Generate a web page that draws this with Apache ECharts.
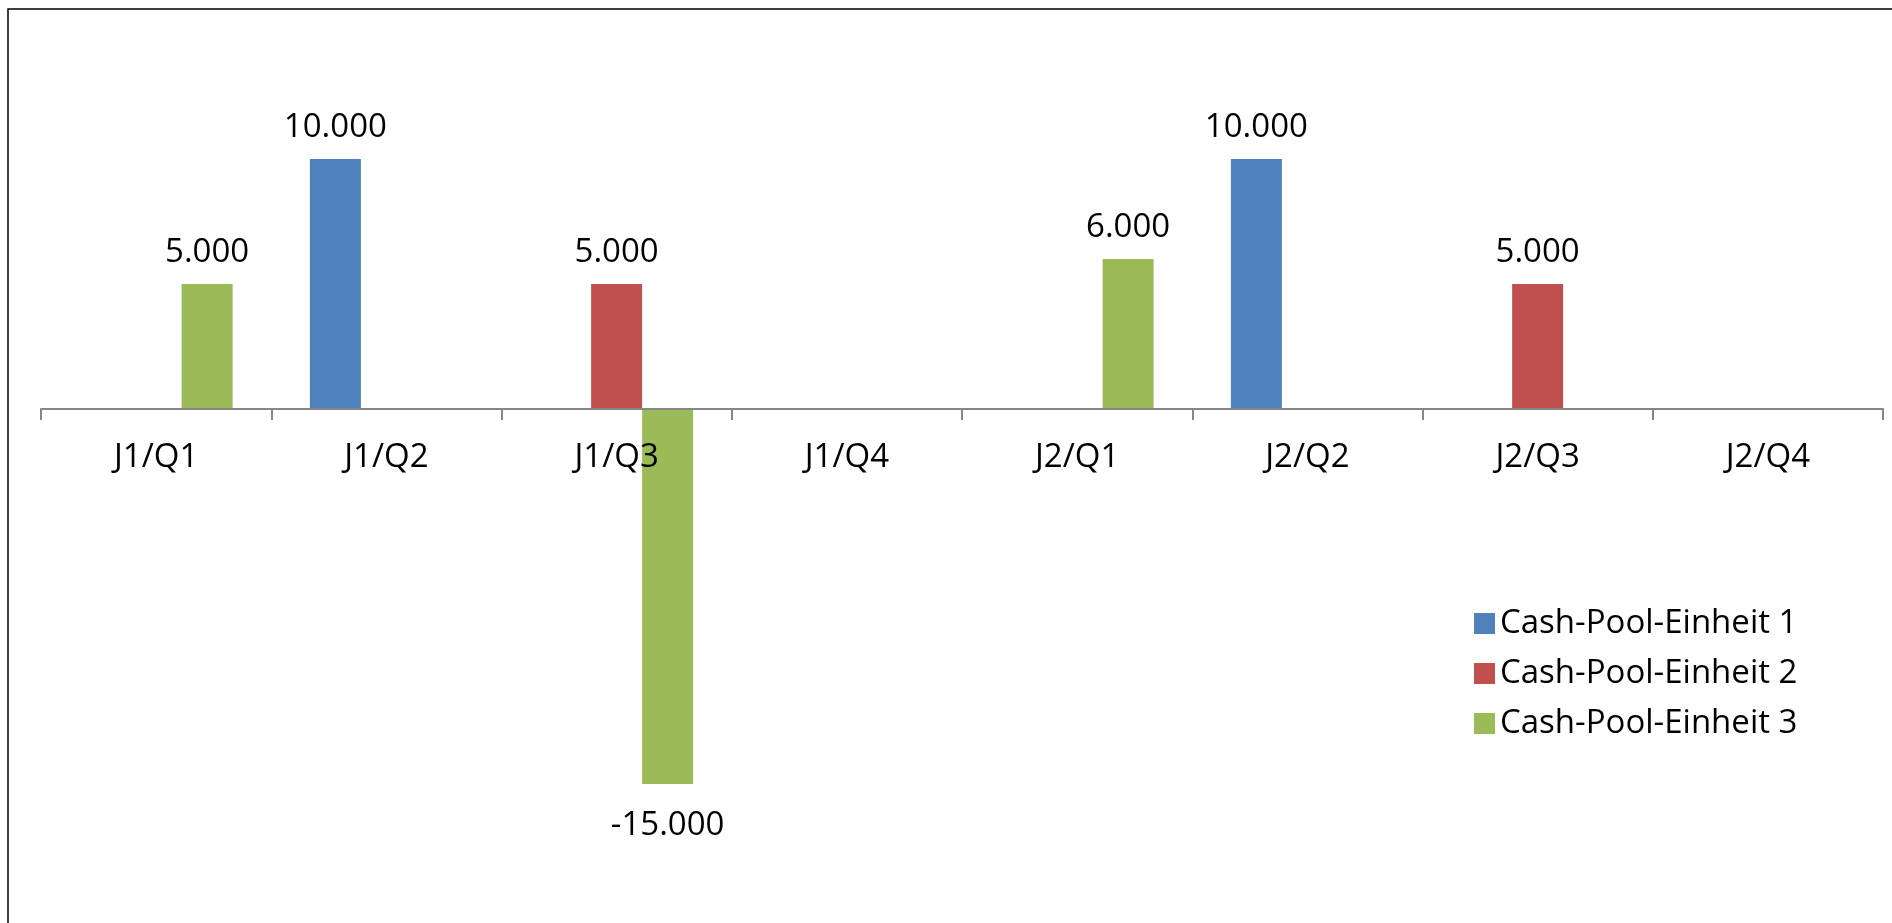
<!DOCTYPE html>
<html>
<head>
<meta charset="utf-8">
<script src="https://cdn.jsdelivr.net/npm/echarts@6/dist/echarts.min.js"></script>
<style>
html,body{margin:0;padding:0;background:#fff;}
#chart{width:1892px;height:923px;}
</style>
</head>
<body>
<div id="chart"></div>
<script>
var categories = ['J1/Q1','J1/Q2','J1/Q3','J1/Q4','J2/Q1','J2/Q2','J2/Q3','J2/Q4'];
var seriesNames = ['Cash-Pool-Einheit 1','Cash-Pool-Einheit 2','Cash-Pool-Einheit 3'];
var einheit1 = [null, 10000, null, null, null, 10000, null, null];
var einheit2 = [null, null, 5000, null, null, null, 5000, null];
var einheit3 = [5000, null, -15000, null, 6000, null, null, null];
var colors = ['#4F81BD','#C0504D','#9BBB59'];

var FONT = 'Open Sans';
function fmt(v){
  var s = Math.abs(v).toString().replace(/\B(?=(\d{3})+(?!\d))/g, '.');
  return (v < 0 ? '-' : '') + s;
}
function buildData(arr){
  return arr.map(function(v){
    if (v === null) return '-';
    if (v < 0) return {value: v, label: {position: 'bottom', distance: 25}};
    return v;
  });
}
var allSeries = [einheit1, einheit2, einheit3].map(function(arr, i){
  return {
    name: seriesNames[i],
    type: 'bar',
    z: 2,
    data: buildData(arr),
    barWidth: 51,
    barGap: '0%',
    itemStyle: {color: colors[i]},
    label: {
      show: true,
      position: 'top',
      distance: 15,
      fontFamily: FONT,
      fontSize: 33,
      color: '#000',
      formatter: function(p){ return fmt(p.value); }
    }
  };
});

var chart = echarts.init(document.getElementById('chart'), null, {renderer: 'canvas'});
chart.setOption({
  animation: false,
  backgroundColor: '#fff',
  grid: {left: 41, right: 9, top: 34, bottom: 14, containLabel: false, outerBoundsMode: 'none'},
  xAxis: {
    type: 'category',
    data: categories,
    offset: -500,
    z: 5,
    axisLine: {onZero: false, lineStyle: {color: '#868686', width: 2}},
    axisTick: {show: true, length: 11, lineStyle: {color: '#868686', width: 2}},
    axisLabel: {fontFamily: FONT, fontSize: 33, color: '#000', margin: 32, interval: 0}
  },
  yAxis: {
    type: 'value',
    min: -20000,
    max: 15000,
    interval: 5000,
    show: false,
    splitLine: {show: false}
  },
  legend: {
    orient: 'vertical',
    left: 1469,
    top: 602,
    itemWidth: 21,
    itemHeight: 21,
    itemGap: 17,
    icon: 'rect',
    textStyle: {fontFamily: FONT, fontSize: 33, color: '#000', padding: [0,0,0,0]},
    data: seriesNames
  },
  graphic: [{
    type: 'rect',
    shape: {x: 8, y: 9, width: 2000, height: 2000},
    style: {fill: 'none', stroke: '#000', lineWidth: 1.5},
    silent: true
  }],
  series: allSeries
});
</script>
</body>
</html>
